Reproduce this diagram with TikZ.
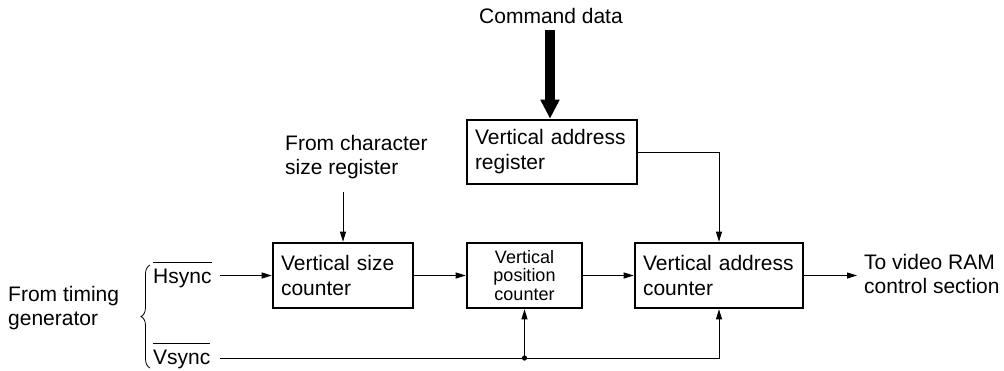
\documentclass[tikz,border=0pt]{standalone}
\usepackage{fontspec}
\setmainfont{Liberation Sans}
\usetikzlibrary{arrows.meta,decorations.pathreplacing}
\newcommand\ovlbar[1]{\vbox{\hrule height 0.9pt\kern 5.5pt\hbox{#1}}}
\begin{document}
\begin{tikzpicture}[x=1pt,y=-1pt,
  box/.style={draw,line width=2.6pt,rectangle,inner xsep=8pt,inner ysep=0pt,
    align=left,minimum height=65pt,font=\fontsize{21}{25}\selectfont},
  lbl/.style={font=\fontsize{21}{24}\selectfont,align=left,inner sep=0pt},
  conn/.style={line width=1pt,-{Triangle[length=10pt,width=6pt]}},
  wire/.style={line width=1pt}]
\useasboundingbox (0,0) rectangle (1004,370);

% boxes
\node[box,minimum width=140pt,text width=124pt] (size) at (343,275.5) {Vertical size\\counter};
\node[box,minimum width=115pt,text width=99pt,align=center,
      font=\fontsize{18}{18.5}\selectfont] (pos) at (524.5,275.5) {Vertical\\position\\counter};
\node[box,minimum width=168pt,text width=152pt] (addr) at (719,275.5) {Vertical address\\counter};
\node[box,minimum width=170pt,minimum height=64pt,text width=154pt] (reg) at (552,152) {Vertical address\\register};

% labels
\node[lbl,anchor=base] (cmd) at (551,23) {Command data};
\node[lbl,anchor=west] (chr) at (285,157) {From character\\size register};
\node[lbl,anchor=west] (tim) at (8,308) {From timing\\generator};
\node[lbl,anchor=west] (out) at (864,274) {To video RAM\\control section};
\node[lbl,anchor=base west] (hs) at (153,283) {\ovlbar{Hsync}};
\node[lbl,anchor=base west] (vs) at (153,364) {\ovlbar{Vsync}};

% coordinates
\coordinate (cmdtop) at (550,30);
\coordinate (chrend) at (343,192);
\coordinate (hsl) at (220,275.5);
\coordinate (vsl) at (220,358);
\coordinate (outend) at (857,275.5);
\coordinate (dot) at (pos.south |- vsl);

% thick command arrow
\draw[line width=10pt,-{Triangle[length=19pt,width=18pt]}] (cmdtop) -- (reg.north -| cmdtop);

% connectors
\draw[conn] (chrend) -- (size.north);
\draw[conn] (hsl) -- (size.west);
\draw[conn] (size.east) -- (pos.west);
\draw[conn] (pos.east) -- (addr.west);
\draw[conn] (addr.east) -- (outend);
\draw[conn] (reg.east) -| (addr.north);
\draw[conn] (vsl) -| (addr.south);
\draw[conn] (dot) -- (pos.south);
\fill (dot) circle (2.6pt);

% brace
\draw[decorate,decoration={brace,amplitude=9pt},line width=0.8pt] (150,368) -- (150,265);
\end{tikzpicture}
\end{document}
